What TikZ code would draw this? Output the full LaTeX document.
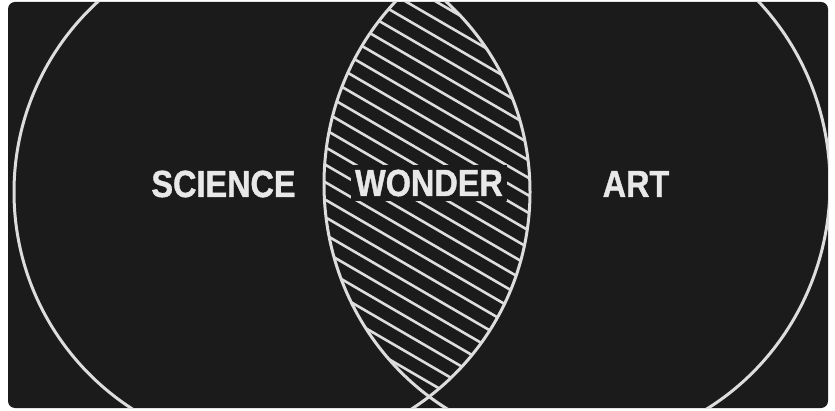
\documentclass[tikz,border=0pt]{standalone}
\usepackage{fontspec}
\newfontfamily\chalkfont{Liberation Sans Bold}[FakeBold=1.2]
\usetikzlibrary{positioning}
\definecolor{boardblack}{HTML}{1B1B1B}
\definecolor{chalkwhite}{HTML}{DDDDDD}
\definecolor{chalktext}{HTML}{E8E8E8}
\newcommand{\chalkword}[1]{\scalebox{0.86}[1]{#1}}

\begin{document}
\begin{tikzpicture}[x=1pt, y=-1pt,
  chalk/.style={draw=chalkwhite, line width=3pt},
  hatch/.style={draw=chalkwhite, line width=2.6pt},
  word/.style={text=chalktext, inner sep=0pt,
    font=\chalkfont\fontsize{37.7}{40}\selectfont}
]
\useasboundingbox (0,0) rectangle (835,411);
\fill[white] (0,0) rectangle (835,411);
\fill[boardblack, rounded corners=7pt] (8,2) rectangle (828,408);

\begin{scope}
  \clip[rounded corners=7pt] (8,2) rectangle (828,408);
  % hatched overlap
  \begin{scope}
    \clip (272,192) circle [radius=258];
    \clip (577,184) ellipse [x radius=253, y radius=262];
    \foreach \c in {-130,-112.5,...,410}
      \draw[hatch] (300,\c) -- (570,\c+157);
  \end{scope}
  \draw[chalk] (272,192) circle [radius=258];
  \draw[chalk] (577,184) ellipse [x radius=253, y radius=262];
\end{scope}

\node[word] (science) at (223.5,184) {\chalkword{SCIENCE}};
\node[word, fill=boardblack, inner xsep=4pt, inner ysep=5pt] (wonder) at (429,183) {\chalkword{WONDER}};
\node[word] (art) at (636,184) {\chalkword{ART}};
\end{tikzpicture}
\end{document}
